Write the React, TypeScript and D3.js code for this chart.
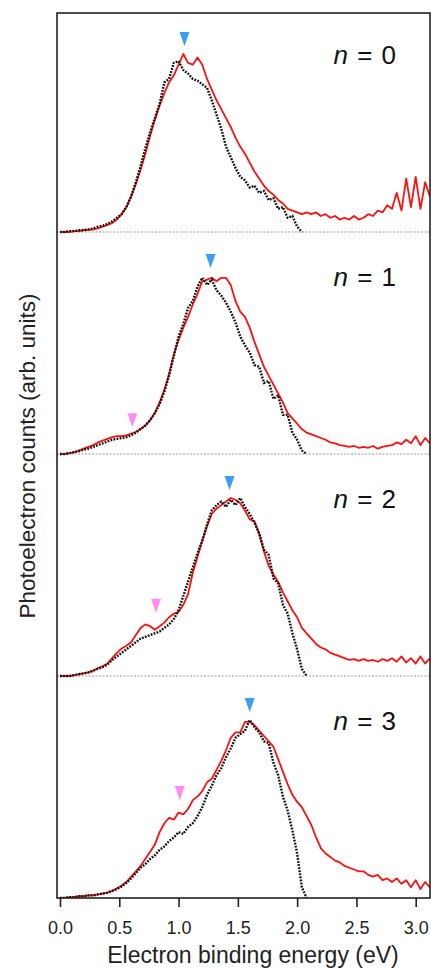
import * as d3 from "d3";
import { useEffect, useRef } from "react";

// energy grid step (eV) shared by all spectra below
const STEP = 0.04;

// red traces (normalised counts, peak ~ 1), one value every STEP eV from 0
const red0 = [0, 0, 0, 0.005, 0.005, 0.01, 0.01, 0.015, 0.02, 0.03, 0.04, 0.05, 0.07, 0.1, 0.14, 0.2, 0.27, 0.35, 0.44, 0.54,
    0.63, 0.71, 0.78, 0.84, 0.88, 0.94, 1.0, 0.95, 0.94, 0.98, 0.94, 0.86, 0.8, 0.74, 0.69, 0.64, 0.59, 0.53, 0.48, 0.44,
    0.39, 0.34, 0.3, 0.26, 0.23, 0.21, 0.18, 0.16, 0.13, 0.12, 0.11, 0.1, 0.11, 0.1, 0.11, 0.09, 0.1, 0.08, 0.09, 0.07,
    0.08, 0.07, 0.09, 0.07, 0.08, 0.1, 0.09, 0.12, 0.11, 0.15, 0.13, 0.22, 0.12, 0.3, 0.14, 0.31, 0.13, 0.28, 0.2];
const red1 = [0, 0, 0.005, 0.01, 0.02, 0.03, 0.04, 0.05, 0.065, 0.075, 0.085, 0.095, 0.1, 0.1, 0.105, 0.115, 0.125, 0.14, 0.16, 0.19,
    0.23, 0.29, 0.36, 0.45, 0.56, 0.64, 0.71, 0.77, 0.84, 0.9, 0.97, 0.98, 0.99, 0.97, 0.99, 0.99, 0.95, 0.86, 0.8, 0.77,
    0.71, 0.63, 0.56, 0.49, 0.44, 0.39, 0.34, 0.29, 0.23, 0.2, 0.17, 0.14, 0.12, 0.11, 0.1, 0.09, 0.08, 0.065, 0.06, 0.05,
    0.045, 0.04, 0.045, 0.035, 0.04, 0.035, 0.045, 0.03, 0.04, 0.045, 0.05, 0.065, 0.055, 0.08, 0.06, 0.1, 0.05, 0.09, 0.06];
const red2 = [0, 0, 0, 0.005, 0.01, 0.015, 0.02, 0.03, 0.045, 0.055, 0.07, 0.1, 0.13, 0.155, 0.17, 0.19, 0.23, 0.27, 0.29, 0.28,
    0.26, 0.28, 0.3, 0.33, 0.35, 0.36, 0.4, 0.46, 0.58, 0.67, 0.76, 0.84, 0.91, 0.94, 0.96, 0.98, 1.0, 0.99, 0.97, 0.93,
    0.88, 0.87, 0.8, 0.7, 0.62, 0.57, 0.53, 0.47, 0.42, 0.37, 0.33, 0.27, 0.24, 0.21, 0.18, 0.16, 0.15, 0.13, 0.12, 0.11,
    0.1, 0.09, 0.095, 0.085, 0.095, 0.085, 0.09, 0.08, 0.095, 0.085, 0.1, 0.08, 0.11, 0.075, 0.1, 0.07, 0.11, 0.07, 0.1];
const red3 = [0, 0, 0.005, 0.005, 0.01, 0.01, 0.015, 0.015, 0.02, 0.025, 0.03, 0.04, 0.055, 0.07, 0.09, 0.12, 0.15, 0.18, 0.22, 0.26,
    0.3, 0.37, 0.42, 0.45, 0.44, 0.48, 0.47, 0.5, 0.55, 0.57, 0.6, 0.65, 0.67, 0.72, 0.77, 0.83, 0.9, 0.93, 0.93, 0.99,
    0.99, 0.97, 0.94, 0.91, 0.88, 0.85, 0.78, 0.71, 0.64, 0.58, 0.54, 0.51, 0.46, 0.41, 0.34, 0.28, 0.25, 0.23, 0.21, 0.2,
    0.18, 0.17, 0.16, 0.15, 0.15, 0.13, 0.12, 0.13, 0.1, 0.11, 0.09, 0.11, 0.08, 0.1, 0.06, 0.1, 0.05, 0.09, 0.06];

// black dotted traces, same grid, end near 2.05 eV
const black0 = [0, 0, 0.005, 0.005, 0.01, 0.01, 0.015, 0.02, 0.03, 0.035, 0.045, 0.06, 0.08, 0.1, 0.14, 0.2, 0.28, 0.37, 0.47, 0.56,
    0.64, 0.72, 0.84, 0.86, 0.95, 0.96, 0.91, 0.89, 0.86, 0.85, 0.83, 0.81, 0.74, 0.66, 0.58, 0.48, 0.42, 0.36, 0.31, 0.29,
    0.25, 0.26, 0.22, 0.23, 0.18, 0.19, 0.13, 0.14, 0.08, 0.09, 0.03, 0];
const black1 = [0, 0, 0.005, 0.01, 0.015, 0.025, 0.03, 0.04, 0.05, 0.06, 0.07, 0.08, 0.085, 0.09, 0.095, 0.105, 0.12, 0.14, 0.16, 0.19,
    0.23, 0.28, 0.35, 0.44, 0.55, 0.66, 0.73, 0.82, 0.86, 0.94, 0.99, 0.95, 0.98, 0.92, 0.89, 0.85, 0.8, 0.74, 0.66, 0.61,
    0.57, 0.5, 0.49, 0.4, 0.41, 0.31, 0.33, 0.22, 0.22, 0.12, 0.08, 0.02, 0];
const black2 = [0, 0, 0, 0.005, 0.01, 0.015, 0.02, 0.03, 0.04, 0.05, 0.065, 0.09, 0.11, 0.13, 0.15, 0.17, 0.19, 0.21, 0.22, 0.23,
    0.24, 0.25, 0.27, 0.29, 0.32, 0.37, 0.45, 0.53, 0.61, 0.69, 0.76, 0.85, 0.93, 0.96, 0.98, 0.95, 0.99, 0.96, 1.0, 0.95,
    0.91, 0.86, 0.8, 0.71, 0.68, 0.55, 0.52, 0.4, 0.35, 0.24, 0.15, 0.04, 0];
const black3 = [0, 0, 0.005, 0.005, 0.01, 0.01, 0.015, 0.015, 0.02, 0.025, 0.03, 0.04, 0.05, 0.065, 0.085, 0.11, 0.14, 0.17, 0.19, 0.22,
    0.24, 0.27, 0.29, 0.32, 0.34, 0.37, 0.36, 0.4, 0.42, 0.46, 0.51, 0.58, 0.63, 0.69, 0.73, 0.79, 0.84, 0.9, 0.92, 0.94,
    1.0, 0.96, 0.93, 0.88, 0.87, 0.76, 0.69, 0.57, 0.49, 0.38, 0.25, 0.06, 0];

const redSeries = [red0, red1, red2, red3];
const blackSeries = [black0, black1, black2, black3];
const panelN = ["0", "1", "2", "3"];

// arrow markers: blue at main peak, pink at shoulder
const peakMarks = [1.05, 1.27, 1.43, 1.6];
const shoulderMarks = [null, 0.61, 0.81, 1.01];
const shoulderLevels = [null, 0.15, 0.355, 0.55];

const xTicks = [0, 0.5, 1, 1.5, 2, 2.5, 3];

const FONT = "'Liberation Sans', Arial, sans-serif";

const App = () => {
    const ref = useRef(null);

    useEffect(() => {
        const svg = d3.select(ref.current);
        svg.selectAll("*").remove();

        const frame = { left: 57, right: 430, top: 13, bottom: 898 };
        const panelH = 222;
        const peakH = 178;

        const x = d3.scaleLinear().domain([0, 3]).range([60, 415.7]);

        svg.append("defs").append("clipPath")
            .attr("id", "plotclip")
            .append("rect")
            .attr("x", frame.left)
            .attr("y", frame.top)
            .attr("width", frame.right - frame.left)
            .attr("height", frame.bottom - frame.top);

        redSeries.forEach((red, i) => {
            const base = frame.bottom - (3 - i) * panelH;
            const y = d3.scaleLinear().domain([0, 1]).range([base, base - peakH]);
            const g = svg.append("g");

            if (i < 3) {
                g.append("line")
                    .attr("x1", frame.left)
                    .attr("x2", frame.right)
                    .attr("y1", base)
                    .attr("y2", base)
                    .attr("stroke", "#9a9a9a")
                    .attr("stroke-width", 1)
                    .attr("stroke-dasharray", "2,1.5");
            }

            const line = d3.line()
                .x((d, k) => x(k * STEP))
                .y(d => y(d));

            const plot = g.append("g").attr("clip-path", "url(#plotclip)");
            plot.append("path")
                .attr("d", line(red))
                .attr("fill", "none")
                .attr("stroke", "#ff1010")
                .attr("stroke-width", 1.8)
                .attr("stroke-linejoin", "round");
            plot.append("path")
                .attr("d", line(blackSeries[i]))
                .attr("fill", "none")
                .attr("stroke", "#111")
                .attr("stroke-width", 2.4)
                .attr("stroke-dasharray", "1.8,1.3");

            // down-pointing triangles
            const tri = (e, v, color) => {
                const px = x(e);
                const py = y(v);
                g.append("path")
                    .attr("d", `M${px - 5},${py - 14}L${px + 5},${py - 14}L${px},${py}Z`)
                    .attr("fill", color);
            };
            tri(peakMarks[i], 1.045, "#3d9df2");
            if (shoulderMarks[i] !== null) tri(shoulderMarks[i], shoulderLevels[i], "#ff8cf2");

            const label = g.append("text")
                .attr("x", 396)
                .attr("y", base - 168)
                .attr("text-anchor", "end")
                .style("font-family", FONT)
                .style("font-size", "26px")
                .style("word-spacing", "2px")
                .attr("fill", "#111");
            label.append("tspan").style("font-style", "italic").text("n");
            label.append("tspan").text(` = ${panelN[i]}`);
        });

        // frame
        svg.append("rect")
            .attr("x", frame.left)
            .attr("y", frame.top)
            .attr("width", frame.right - frame.left)
            .attr("height", frame.bottom - frame.top)
            .attr("fill", "none")
            .attr("stroke", "#222")
            .attr("stroke-width", 1.6);

        const xAxis = d3.axisBottom(x)
            .tickValues(xTicks)
            .tickFormat(d3.format(".1f"))
            .tickSize(9)
            .tickSizeOuter(0)
            .tickPadding(14);
        const ax = svg.append("g")
            .attr("transform", `translate(0, ${frame.bottom})`)
            .call(xAxis);
        ax.select(".domain").remove();
        ax.selectAll("line").attr("stroke", "#222").attr("stroke-width", 1.6);
        ax.selectAll("text")
            .style("font-family", FONT)
            .style("font-size", "18px")
            .attr("fill", "#222");

        svg.append("text")
            .attr("x", 253)
            .attr("y", 963)
            .attr("text-anchor", "middle")
            .style("font-family", FONT)
            .style("font-size", "23px")
            .attr("fill", "#222")
            .text("Electron binding energy (eV)");

        svg.append("text")
            .attr("transform", "translate(35, 456) rotate(-90)")
            .attr("text-anchor", "middle")
            .style("font-family", FONT)
            .style("font-size", "22.5px")
            .attr("fill", "#222")
            .text("Photoelectron counts (arb. units)");
    }, []);

    return (
        <svg ref={ref} width={431} height={970}
            style={{ position: "absolute", left: 0, top: 0, background: "#fff" }}></svg>
    );
};

export default App;
